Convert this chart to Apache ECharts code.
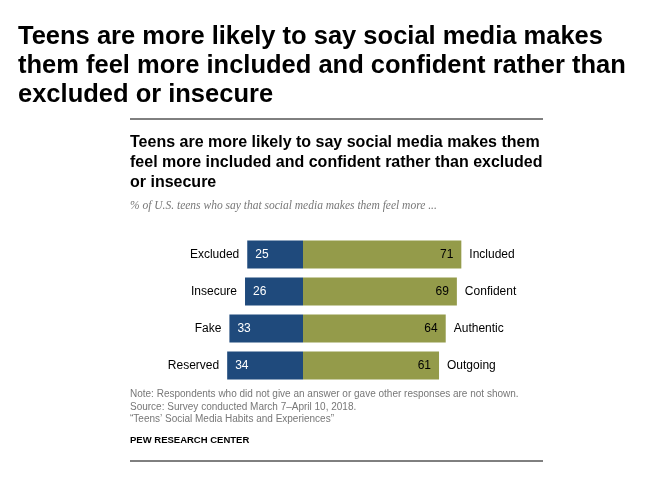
<!DOCTYPE html>
<html><head><meta charset="utf-8">
<script src="https://cdn.jsdelivr.net/npm/echarts@6/dist/echarts.min.js"></script>
<style>body{margin:0;background:#fff}#c{width:656px;height:490px}</style>
</head><body><div id="c"></div>
<script>
const categories = ["Excluded","Insecure","Fake","Reserved"];
const positives = ["Included","Confident","Authentic","Outgoing"];
const negValues = [25,26,33,34];
const posValues = [71,69,64,61];

const chart = echarts.init(document.getElementById('c'));
const font = 'Liberation Sans, Arial, sans-serif';
chart.setOption({
  animation:false,
  graphic:[
    {type:'text',left:18,top:22,style:{text:'Teens are more likely to say social media makes\nthem feel more included and confident rather than\nexcluded or insecure',font:'bold 25.5px '+font,fill:'#000',lineHeight:29}},
    {type:'line',shape:{x1:130,y1:119,x2:543,y2:119},style:{stroke:'#000',lineWidth:1}},
    {type:'text',left:130,top:133,style:{text:'Teens are more likely to say social media makes them\nfeel more included and confident rather than excluded\nor insecure',font:'bold 16px '+font,fill:'#000',lineHeight:20}},
    {type:'text',left:130,top:200,style:{text:'% of U.S. teens who say that social media makes them feel more ...',font:'italic 11.5px Liberation Serif, Georgia, serif',fill:'#777'}},
    {type:'text',left:130,top:388,style:{text:'Note: Respondents who did not give an answer or gave other responses are not shown.\nSource: Survey conducted March 7\u2013April 10, 2018.\n\u201cTeens\u2019 Social Media Habits and Experiences\u201d',font:'10px '+font,fill:'#777',lineHeight:12.5}},
    {type:'text',left:130,top:435,style:{text:'PEW RESEARCH CENTER',font:'bold 9.5px '+font,fill:'#000'}},
    {type:'line',shape:{x1:130,y1:461,x2:543,y2:461},style:{stroke:'#000',lineWidth:1}}
  ],
  grid:{left:213.8,width:267.6,top:236,height:148},
  xAxis:{type:'value',min:-40,max:80,show:false},
  yAxis:{type:'category',inverse:true,data:categories,show:false},
  series:[
    {type:'bar',stack:'a',barWidth:28,data:negValues.map(v=>-v),itemStyle:{color:'#1f4a7c'},
     label:{show:true,position:'left',formatter:p=>categories[p.dataIndex],font:'11px '+font,color:'#000',distance:8}},
    {type:'bar',stack:'a',barWidth:28,data:posValues,itemStyle:{color:'#949b4a'},
     label:{show:true,position:'right',formatter:p=>positives[p.dataIndex],font:'11px '+font,color:'#000',distance:8}},
    {type:'bar',barGap:'-100%',barWidth:28,data:negValues.map(v=>-v),itemStyle:{color:'transparent'},z:5,
     label:{show:true,position:'insideLeft',distance:8,formatter:p=>String(-p.value),font:'12px '+font,color:'#fff'}},
    {type:'bar',barGap:'-100%',barWidth:28,data:posValues,itemStyle:{color:'transparent'},z:5,
     label:{show:true,position:'insideRight',distance:8,formatter:p=>String(p.value),font:'12px '+font,color:'#000'}}
  ]
});
</script></body></html>
